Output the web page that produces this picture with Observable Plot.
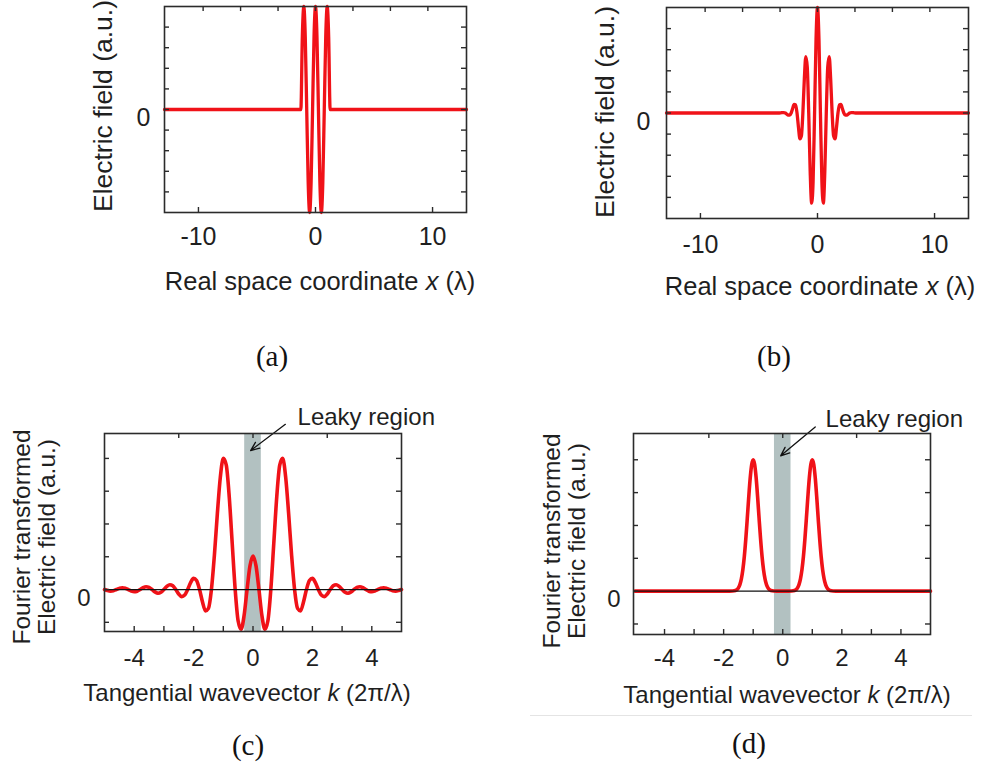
<!DOCTYPE html>
<html>
<head>
<meta charset="utf-8">
<script src="https://cdn.jsdelivr.net/npm/d3@7"></script>
<script src="https://cdn.jsdelivr.net/npm/@observablehq/plot@0.6"></script>
<style>
  body { margin: 0; background: #fff; }
  #fig { position: relative; width: 984px; height: 762px; overflow: hidden;
         font-family: "Liberation Sans", Arial, sans-serif; color: #1f1f1f; }
  .lab { position: absolute; white-space: nowrap; line-height: 1; transform: translate(-50%, -50%); }
  .rot { transform: translate(-50%, -50%) rotate(-90deg); text-align: center; }
  .sub { position: absolute; font-family: "Liberation Serif", "DejaVu Serif", serif; font-size: 29px;
         line-height: 1; transform: translate(-50%, -50%); color: #111; }
</style>
</head>
<body>
<div id="fig"></div>
<script>
// ---- (a) rectangular-windowed cosine, real space ----
const xA = [-12.9, -1.25, -1.125, -1, -0.875, -0.75, -0.625, -0.5, -0.375, -0.25, -0.125, 0,
            0.125, 0.25, 0.375, 0.5, 0.625, 0.75, 0.875, 1, 1.125, 1.25, 12.9];
const eA = [0, 0, 0.707, 1, 0.707, 0, -0.707, -1, -0.707, 0, 0.707, 1,
            0.707, 0, -0.707, -1, -0.707, 0, 0.707, 1, 0.707, 0, 0];

// ---- (b) Gaussian-windowed cosine, real space ----
const xB = [-12.9, -3.25, -3.125, -3, -2.875, -2.75, -2.625, -2.5, -2.375, -2.25, -2.125, -2,
            -1.875, -1.75, -1.625, -1.5, -1.375, -1.25, -1.125, -1, -0.875, -0.75, -0.625, -0.5,
            -0.375, -0.25, -0.125, 0, 0.125, 0.25, 0.375, 0.5, 0.625, 0.75, 0.875, 1,
            1.125, 1.25, 1.375, 1.5, 1.625, 1.75, 1.875, 2, 2.125, 2.25, 2.375, 2.5,
            2.625, 2.75, 2.875, 3, 3.125, 3.25, 12.9];
const eB = [0, 0, 0.002, 0.004, 0.004, 0, -0.010, -0.020, -0.021, 0, 0.042, 0.082,
            0.079, 0, -0.136, -0.245, -0.217, 0, 0.321, 0.535, 0.438, 0, -0.554, -0.855,
            -0.648, 0, 0.700, 1, 0.700, 0, -0.648, -0.855, -0.554, 0, 0.438, 0.535,
            0.321, 0, -0.217, -0.245, -0.136, 0, 0.079, 0.082, 0.042, 0, -0.021, -0.020,
            -0.010, 0, 0.004, 0.004, 0.002, 0, 0];

// ---- (c) spectrum of the rectangular-windowed pulse ----
const kC = [-5, -4.9, -4.8, -4.7, -4.6, -4.5, -4.4, -4.3, -4.2, -4.1, -4, -3.9, -3.8, -3.7, -3.6,
            -3.5, -3.4, -3.3, -3.2, -3.1, -3, -2.9, -2.8, -2.7, -2.6, -2.5, -2.4, -2.3, -2.2, -2.1,
            -2, -1.9, -1.8, -1.7, -1.6, -1.5, -1.4, -1.3, -1.2, -1.1, -1, -0.9, -0.8, -0.7, -0.6,
            -0.5, -0.4, -0.3, -0.2, -0.1, 0, 0.1, 0.2, 0.3, 0.4, 0.5, 0.6, 0.7, 0.8, 0.9,
            1, 1.1, 1.2, 1.3, 1.4, 1.5, 1.6, 1.7, 1.8, 1.9, 2, 2.1, 2.2, 2.3, 2.4,
            2.5, 2.6, 2.7, 2.8, 2.9, 3, 3.1, 3.2, 3.3, 3.4, 3.5, 3.6, 3.7, 3.8, 3.9,
            4, 4.1, 4.2, 4.3, 4.4, 4.5, 4.6, 4.7, 4.8, 4.9, 5];
const fC = [0, -0.008, -0.012, -0.009, 0, 0.009, 0.014, 0.010, 0, -0.011, -0.017, -0.013, 0, 0.014, 0.021,
            0.016, 0, -0.018, -0.028, -0.021, 0, 0.024, 0.037, 0.029, 0, -0.034, -0.054, -0.042, 0, 0.053,
            0.085, 0.069, 0, -0.095, -0.163, -0.144, 0, 0.261, 0.579, 0.857, 1, 0.948, 0.707, 0.353, 0,
            -0.240, -0.303, -0.198, 0, 0.182, 0.255, 0.182, 0, -0.198, -0.303, -0.240, 0, 0.353, 0.707, 0.948,
            1, 0.857, 0.579, 0.261, 0, -0.144, -0.163, -0.095, 0, 0.069, 0.085, 0.053, 0, -0.042, -0.054,
            -0.034, 0, 0.029, 0.037, 0.024, 0, -0.021, -0.028, -0.018, 0, 0.016, 0.021, 0.014, 0, -0.013,
            -0.017, -0.011, 0, 0.010, 0.014, 0.009, 0, -0.009, -0.012, -0.008, 0];

// ---- (d) spectrum of the Gaussian-windowed pulse ----
const kD = [-5, -1.8, -1.7, -1.6, -1.55, -1.5, -1.45, -1.4, -1.35, -1.3, -1.25, -1.2, -1.15, -1.1, -1.05,
            -1, -0.95, -0.9, -0.85, -0.8, -0.75, -0.7, -0.65, -0.6, -0.55, -0.5, -0.45, -0.4, -0.3, -0.2,
            0, 0.2, 0.3, 0.4, 0.45, 0.5, 0.55, 0.6, 0.65, 0.7, 0.75, 0.8, 0.85, 0.9, 0.95,
            1, 1.05, 1.1, 1.15, 1.2, 1.25, 1.3, 1.35, 1.4, 1.45, 1.5, 1.55, 1.6, 1.7, 1.8, 5];
const fD = [0, 0, 0.001, 0.005, 0.011, 0.025, 0.050, 0.094, 0.163, 0.264, 0.397, 0.553, 0.717, 0.863, 0.964,
            1, 0.964, 0.863, 0.717, 0.553, 0.397, 0.264, 0.163, 0.094, 0.050, 0.025, 0.011, 0.005, 0.001, 0,
            0, 0, 0.001, 0.005, 0.011, 0.025, 0.050, 0.094, 0.163, 0.264, 0.397, 0.553, 0.717, 0.863, 0.964,
            1, 0.964, 0.863, 0.717, 0.553, 0.397, 0.264, 0.163, 0.094, 0.050, 0.025, 0.011, 0.005, 0.001, 0, 0];

// ---- ticks and shaded band ----
const realBottomTicks = [-10, 0, 10];
const realTopTicks = [-9.6, -6.4, -3.2, 0, 3.2, 6.4, 9.6];
const realSideTicks = [-0.8, -0.6, -0.4, -0.2, 0, 0.2, 0.4, 0.6, 0.8];
const kBottomTicks = [-4, -3, -2, -1, 0, 1, 2, 3, 4];
const kTickLabels = [-4, -2, 0, 2, 4];
const kTopTicks = [-2.5, 0, 2.5];
const kSideTicks = [-0.25, 0, 0.25, 0.5, 0.75, 1];
const leakyBand = [-0.28, 0.28];

const RED = "#f01218", INK = "#1f1f1f", EDGE = "#2b2b2b";
const fig = document.getElementById("fig");

function pts(xs, ys) { return xs.map((x, i) => ({x, y: ys[i]})); }

function panel(o) {
  const fw = o.width - o.ml - o.mr, fh = o.height - o.mt - o.mb;
  const tick = 5;
  const marks = [
    ...(o.before || []),
    Plot.line(pts(o.xs, o.ys), {x: "x", y: "y", stroke: RED, strokeWidth: o.lw, curve: "monotone-x",
                                strokeLinejoin: "round", strokeLinecap: "round"}),
    ...(o.after || []),
    Plot.ruleX(o.bottomTicks, {x: d => d, insetTop: fh - tick, stroke: EDGE, strokeWidth: 1.4}),
    Plot.ruleX(o.topTicks, {x: d => d, insetBottom: fh - tick, stroke: EDGE, strokeWidth: 1.4}),
    Plot.ruleY(o.sideTicks, {y: d => d, insetRight: fw - tick, stroke: EDGE, strokeWidth: 1.4}),
    Plot.ruleY(o.sideTicks, {y: d => d, insetLeft: fw - tick, stroke: EDGE, strokeWidth: 1.4}),
    Plot.frame({stroke: EDGE, strokeWidth: 1.6}),
    Plot.text(o.tickLabels, {x: d => d, text: d => String(d), frameAnchor: "bottom", lineAnchor: "top",
                             dy: o.labelGap, fontSize: o.fs, fill: INK}),
    Plot.text([0], {y: d => d, text: () => "0", frameAnchor: "left", textAnchor: "end",
                    dx: o.zeroDx, dy: 8.5, fontSize: o.fs, fill: INK})
  ];
  const svg = Plot.plot({
    width: o.width, height: o.height,
    marginLeft: o.ml, marginRight: o.mr, marginTop: o.mt, marginBottom: o.mb,
    x: {domain: o.xDomain, axis: null},
    y: {domain: o.yDomain, axis: null},
    style: {fontFamily: '"Liberation Sans", Arial, sans-serif', overflow: "visible", background: "transparent"},
    marks
  });
  svg.style.position = "absolute";
  svg.style.left = o.left + "px";
  svg.style.top = o.top + "px";
  svg.style.maxWidth = "none";
  fig.append(svg);
}

function label(html, x, y, size, rotated) {
  const d = document.createElement("div");
  d.className = "lab" + (rotated ? " rot" : "");
  d.style.left = x + "px"; d.style.top = y + "px"; d.style.fontSize = size + "px";
  if (rotated) d.style.lineHeight = "1.04";
  d.innerHTML = html;
  fig.append(d);
}
function sub(text, x, y) {
  const d = document.createElement("div");
  d.className = "sub"; d.style.left = x + "px"; d.style.top = y + "px"; d.textContent = text;
  fig.append(d);
}

function leaky(ann, yDomain) {
  return {
    before: [Plot.rect([leakyBand], {x1: d => d[0], x2: d => d[1], y1: yDomain[0], y2: yDomain[1], fill: "#b2c1c1"})],
    after: [
      Plot.ruleY([0], {stroke: "#111", strokeWidth: 1.3}),
      Plot.arrow([ann], {x1: "x1", y1: "y1", x2: "x2", y2: "y2", stroke: "#111", strokeWidth: 1.3,
                         headLength: 11, headAngle: 45}),
      Plot.text([ann], {x: "tx", y: "ty", text: () => "Leaky region", textAnchor: "start",
                        fontSize: 24, fill: INK})
    ]
  };
}

// (a)
panel({left: 0, top: 0, width: 490, height: 310, ml: 164, mr: 24, mt: 6, mb: 98,
       xDomain: [-12.9, 12.9], yDomain: [-1, 1], xs: xA, ys: eA, lw: 3.3,
       bottomTicks: realBottomTicks, topTicks: realTopTicks, sideTicks: realSideTicks,
       tickLabels: realBottomTicks, labelGap: 15, fs: 25, zeroDx: -14});
// (b)
panel({left: 490, top: 0, width: 494, height: 310, ml: 176, mr: 16, mt: 7, mb: 92,
       xDomain: [-12.9, 12.9], yDomain: [-1, 1], xs: xB, ys: eB, lw: 3.3,
       bottomTicks: realBottomTicks, topTicks: realTopTicks, sideTicks: realSideTicks,
       tickLabels: realBottomTicks, labelGap: 17, fs: 25, zeroDx: -16});
// (c)
const yC = [-0.32, 1.19];
panel({left: 0, top: 395, width: 490, height: 300, ml: 104, mr: 89, mt: 38, mb: 64,
       xDomain: [-5, 5], yDomain: yC, xs: kC, ys: fC, lw: 3.6,
       bottomTicks: kBottomTicks, topTicks: kTopTicks, sideTicks: kSideTicks,
       tickLabels: kTickLabels, labelGap: 17, fs: 24, zeroDx: -14,
       ...leaky({x1: 1.09, y1: 1.26, x2: -0.08, y2: 1.06, tx: 1.5, ty: 1.31}, yC)});
// (d)
const yD = [-0.33, 1.2];
panel({left: 490, top: 395, width: 494, height: 300, ml: 143, mr: 54, mt: 38, mb: 61,
       xDomain: [-5.05, 5], yDomain: yD, xs: kD, ys: fD, lw: 3.6,
       bottomTicks: kBottomTicks, topTicks: kTopTicks, sideTicks: kSideTicks,
       tickLabels: kTickLabels, labelGap: 14, fs: 24, zeroDx: -13,
       ...leaky({x1: 1.1, y1: 1.25, x2: -0.07, y2: 1.03, tx: 1.45, ty: 1.31}, yD)});

// axis titles
label("Real space coordinate <i>x</i> (λ)", 320, 282, 25.5);
label("Electric field (a.u.)", 104, 106, 26.5, true);
label("Real space coordinate <i>x</i> (λ)", 820, 287, 25.5);
label("Electric field (a.u.)", 606, 112, 26.5, true);
label("Tangential wavevector <i>k</i> (2π/λ)", 247, 693, 24);
label("Fourier transformed<br>Electric field (a.u.)", 34, 537, 24.5, true);
label("Tangential wavevector <i>k</i> (2π/λ)", 787, 695, 24);
label("Fourier transformed<br>Electric field (a.u.)", 564, 541, 24.5, true);

// panel letters
sub("(a)", 272, 356);
sub("(b)", 774, 356);
sub("(c)", 248, 745);
sub("(d)", 749, 743);

// thin rule under panel (d)
const rule = document.createElement("div");
Object.assign(rule.style, {position: "absolute", left: "530px", top: "715px", width: "442px", height: "1px", background: "#e4e4e4"});
fig.append(rule);
</script>
</body>
</html>
